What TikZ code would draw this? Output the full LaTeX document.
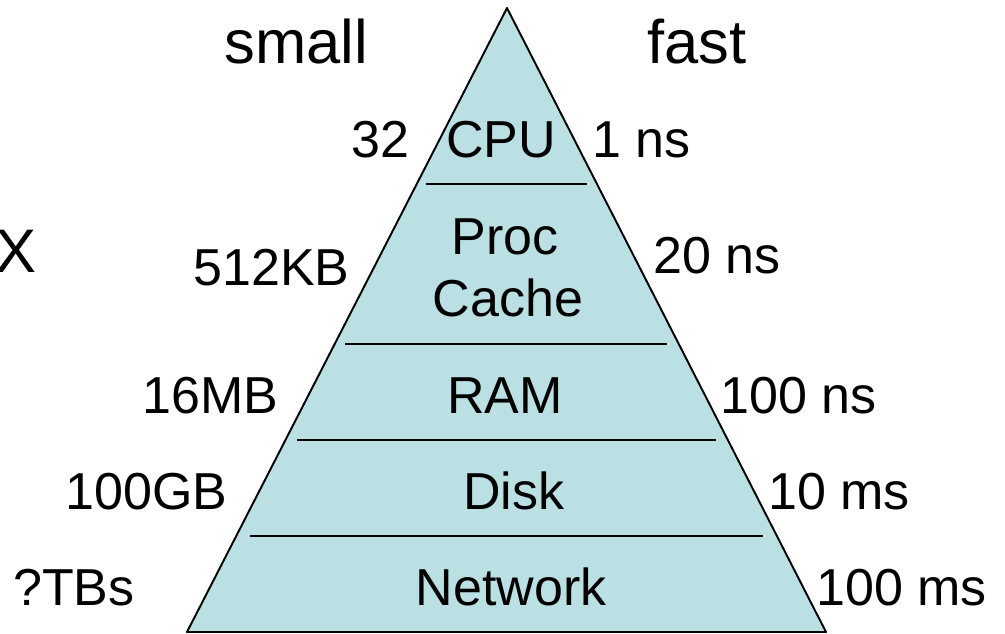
\documentclass[tikz,border=0pt]{standalone}
\usepackage{fontspec}
\setmainfont{Liberation Sans}
\definecolor{pyrfill}{RGB}{187,224,227}

\begin{document}
\begin{tikzpicture}[x=0.02cm,y=-0.02cm,
  big/.style={font=\fontsize{35}{42}\selectfont, inner sep=0pt},
  lbl/.style={font=\fontsize{29.6}{36}\selectfont, inner sep=0pt}]
\useasboundingbox (0,0) rectangle (1005,633);
% pyramid
\coordinate (apex) at (507,8);
\coordinate (bl) at (187,632);
\coordinate (br) at (826,632);
\path [fill=pyrfill] (apex) -- (bl) -- (br) -- cycle;
\draw [line width=1.1pt, line join=round] (apex) -- (bl) -- (br) -- cycle;
\draw [line width=1pt] (426,184) -- (587,184);
\draw [line width=1pt] (345,344) -- (667,344);
\draw [line width=1pt] (297,440) -- (716,440);
\draw [line width=1pt] (250,536) -- (763,536);

\node [big, anchor=base] (small) at (296,63) {small};
\node [big, anchor=base] (fast) at (697,63) {fast};
\node [big, anchor=base east] (x) at (37,272) {X};

% levels
\node [lbl, anchor=base] (cpu) at (501,157) {CPU};
\node [lbl, anchor=base] (proc) at (505,254) {Proc};
\node [lbl, anchor=base] (cache) at (508,316) {Cache};
\node [lbl, anchor=base] (ram) at (505,413) {RAM};
\node [lbl, anchor=base] (disk) at (514,509) {Disk};
\node [lbl, anchor=base] (net) at (511,605) {Network};

% sizes
\node [lbl, anchor=base east] (s1) at (410,157) {32};
\node [lbl, anchor=base east] (s2) at (350,285) {512KB};
\node [lbl, anchor=base east] (s3) at (279,413) {16MB};
\node [lbl, anchor=base east] (s4) at (228,509) {100GB};
\node [lbl, anchor=base east] (s5) at (135,605) {?TBs};

% times
\node [lbl, anchor=base west] (t1) at (592,157) {1 ns};
\node [lbl, anchor=base west] (t2) at (653,273) {20 ns};
\node [lbl, anchor=base west] (t3) at (720,413) {100 ns};
\node [lbl, anchor=base west] (t4) at (768,509) {10 ms};
\node [lbl, anchor=base west] (t5) at (816,605) {100 ms};
\end{tikzpicture}
\end{document}
